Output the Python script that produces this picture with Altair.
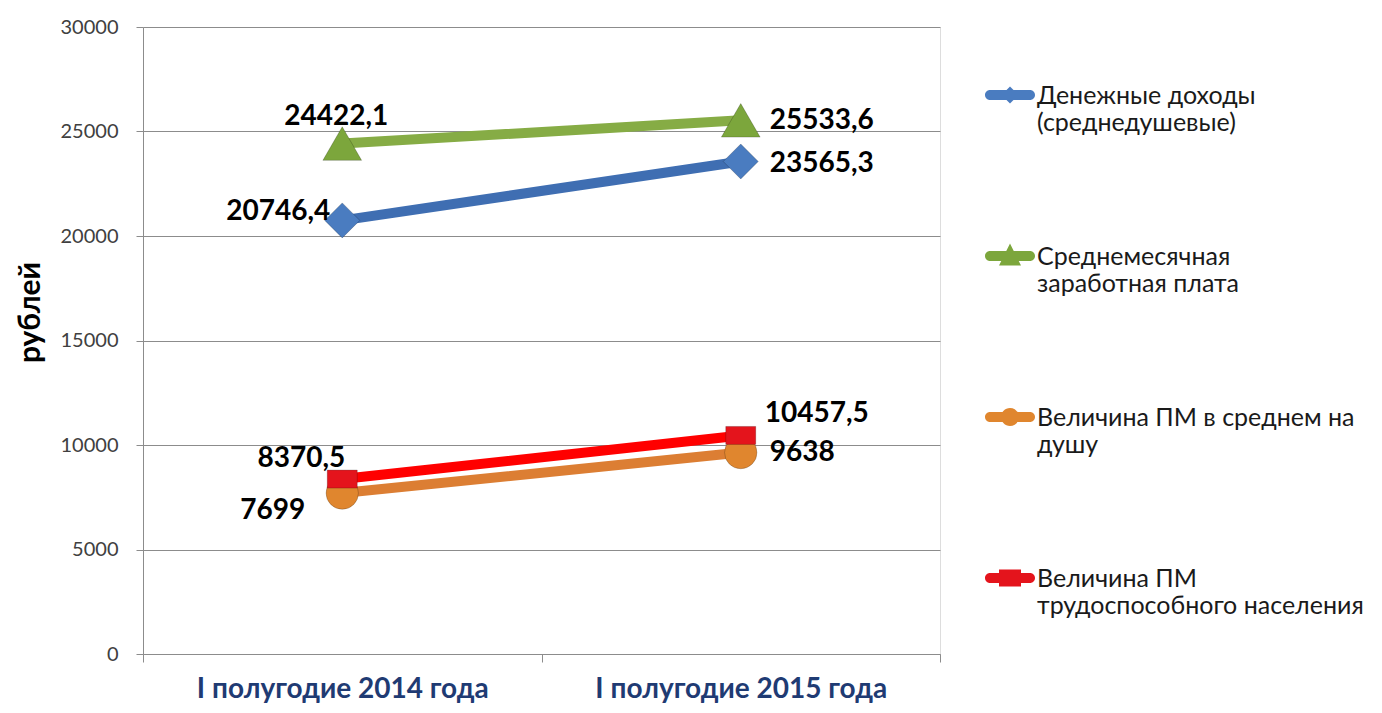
import altair as alt
import pandas as pd

categories = ["I полугодие 2014 года", "I полугодие 2015 года"]
series_names = [
    "Денежные доходы (среднедушевые)",
    "Среднемесячная заработная плата",
    "Величина ПМ в среднем на душу",
    "Величина ПМ трудоспособного населения",
]
legend_lines = [
    "Денежные доходы|(среднедушевые)",
    "Среднемесячная|заработная плата",
    "Величина ПМ в среднем на|душу",
    "Величина ПМ|трудоспособного населения",
]
income = [20746.4, 23565.3]
wage = [24422.1, 25533.6]
pm_capita = [7699, 9638]
pm_working = [8370.5, 10457.5]
values_by_series = [income, wage, pm_capita, pm_working]

y_ticks = [0, 5000, 10000, 15000, 20000, 25000, 30000]

# styles
line_colors = ["#3F6EB2", "#86AC45", "#DC7E33", "#FF0000"]
marker_colors = ["#4A7CC0", "#7CA63C", "#E0862E", "#E4141C"]
# label offsets (dx, dy, align) per series per category
label_style = {
    (0, 0): (-12, -8, "right"),
    (1, 0): (-6, -27, "center"),
    (2, 0): (-37, 18, "right"),
    (3, 0): (3, -20, "right"),
    (0, 1): (29, 3, "left"),
    (1, 1): (29, 1, "left"),
    (2, 1): (29, 0, "left"),
    (3, 1): (24, -21, "left"),
}


def fmt(v):
    s = ("%g" % v) if float(v).is_integer() else ("%.1f" % v)
    return s.replace(".", ",")


rows = []
for si, (name, vals) in enumerate(zip(series_names, values_by_series)):
    for ci, (cat, v) in enumerate(zip(categories, vals)):
        rows.append({"series": name, "cat": cat,
                     "value": v, "label": fmt(v), "si": si, "ci": ci})
df = pd.DataFrame(rows)

FONT = "Lato"

x_enc = alt.X(
    "cat:N",
    bandPosition=0.5,
    sort=categories,
    scale=alt.Scale(type="band", domain=categories, paddingInner=0, paddingOuter=0),
    axis=alt.Axis(
        title=None, labelAngle=0, tickBand="extent", grid=False,
        labelFont=FONT, labelFontSize=28, labelFontWeight="bold", labelLimit=600,
        labelColor="#1F3B73", labelPadding=13, tickSize=8,
        domainColor="#8C8C8C", tickColor="#8C8C8C",
    ),
)
y_enc = alt.Y(
    "value:Q",
    scale=alt.Scale(domain=[0, 30000], nice=False),
    axis=alt.Axis(
        values=y_ticks, format="d", title="рублей", grid=True,
        gridColor="#8C8C8C", domainColor="#8C8C8C", tickColor="#8C8C8C",
        tickSize=7, labelFont=FONT, labelFontSize=20, labelColor="#404040",
        labelPadding=18, titleFont=FONT, titleFontSize=30, titleFontWeight="bold",
        titleColor="#000000", titleX=-113, titleY=285, titleAngle=270,
        titleAlign="center", titleBaseline="middle",
    ),
)

base = alt.Chart(df)

layers = []
for si in range(4):
    layers.append(
        base.transform_filter(alt.datum.si == si)
        .mark_line(strokeWidth=10, strokeCap="round", color=line_colors[si])
        .encode(x=x_enc, y=y_enc, order=alt.Order("ci:Q"))
    )

shapes = ["diamond", "triangle-up", "circle", "M-1,-0.6 L1,-0.6 L1,0.6 L-1,0.6 Z"]
sizes = [1225, 1500, 1050, 900]
for si in range(4):
    layers.append(
        base.transform_filter(alt.datum.si == si)
        .mark_point(filled=True, shape=shapes[si], size=sizes[si], opacity=1,
                    stroke="#00000033", strokeWidth=1, fill=marker_colors[si])
        .encode(x=x_enc, y=y_enc)
    )

for (si, ci), (dx, dy, align) in label_style.items():
    layers.append(
        base.transform_filter((alt.datum.si == si) & (alt.datum.ci == ci))
        .mark_text(font=FONT, fontSize=28, fontWeight="bold", color="#000000",
                   dx=dx, dy=dy, align=align, baseline="middle")
        .encode(x=x_enc, y=y_enc, text="label:N")
    )

# legend symbols: rounded bar + marker, shifted down to align with first text line
sh = 0.44
bar = (f"M-0.8,{-0.2+sh} L0.8,{-0.2+sh} A0.2,0.2 0 0,1 0.8,{0.2+sh} "
       f"L-0.8,{0.2+sh} A0.2,0.2 0 0,1 -0.8,{-0.2+sh} Z ")
legend_paths = [
    bar + f"M0,{-0.34+sh} L0.34,{sh} L0,{0.34+sh} L-0.34,{sh} Z",
    bar + f"M0,{-0.5+sh} L0.44,{0.38+sh} L-0.44,{0.38+sh} Z",
    bar + f"M-0.36,{sh} A0.36,0.36 0 1,1 0.36,{sh} A0.36,0.36 0 1,1 -0.36,{sh} Z",
    bar + f"M-0.44,{-0.34+sh} L0.44,{-0.34+sh} L0.44,{0.34+sh} L-0.44,{0.34+sh} Z",
]
label_map = " : ".join(
    f"datum.label == '{n}' ? '{l}'" for n, l in zip(series_names, legend_lines)
) + " : datum.label"

legend = alt.Legend(
    title=None, orient="none", legendX=842, legendY=32,
    symbolSize=2500, symbolStrokeWidth=0, symbolOpacity=1,
    labelFont=FONT, labelFontSize=25, labelColor="#1A1A1A", labelLimit=500,
    labelBaseline="top", labelOffset=2, rowPadding=84,
    labelExpr=f"split({label_map}, '|')",
)
legend_layer = base.mark_point(filled=True, opacity=0, size=0).encode(
    x=x_enc, y=y_enc,
    color=alt.Color("series:N", scale=alt.Scale(domain=series_names, range=marker_colors),
                    legend=legend),
    shape=alt.Shape("series:N", scale=alt.Scale(domain=series_names, range=legend_paths),
                    legend=legend),
)
layers.append(legend_layer)

chart = alt.layer(*layers).properties(
    width=797, height=627,
    padding={"left": 135, "top": 19, "right": 430, "bottom": 51},
    autosize=alt.AutoSizeParams(type="none"),
).configure_view(stroke=None).configure(background="#FFFFFF")

chart.save("out.html", embed_options={"renderer": "svg", "actions": False})
